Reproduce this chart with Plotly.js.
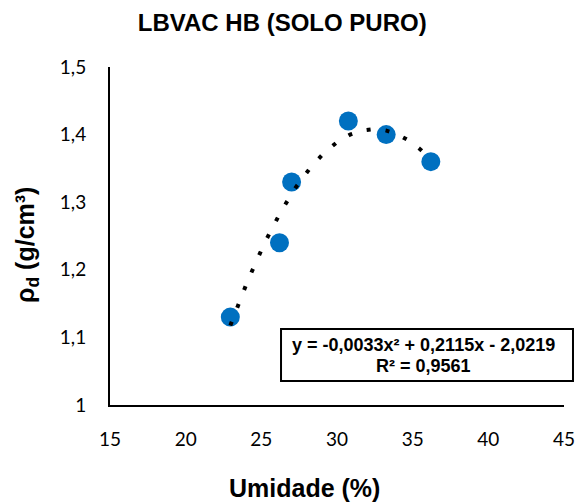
<!DOCTYPE html>
<html>
<head>
<meta charset="utf-8">
<script src="https://cdn.plot.ly/plotly-3.0.1.min.js"></script>
<style>
  html, body { margin: 0; padding: 0; background: #fff; }
  #chart { width: 576px; height: 502px; }
</style>
</head>
<body>
<div id="chart"></div>
<script>
// Compaction test: moisture content (%) vs dry density (g/cm³)
const umidade = [22.95, 26.2, 27.0, 30.75, 33.25, 36.2];
const densidade = [1.13, 1.24, 1.33, 1.42, 1.40, 1.36];

const chartTitle = 'LBVAC HB (SOLO PURO)';
const xTitle = 'Umidade (%)';
const yTitle = 'ρ<sub>d</sub> (g/cm³)';
const equationLine = 'y = -0,0033x² + 0,2115x - 2,0219';
const r2Line = 'R² = 0,9561';

const xTicks = [15, 20, 25, 30, 35, 40, 45];
const xTickText = ['15', '20', '25', '30', '35', '40', '45'];
const yTicks = [1, 1.1, 1.2, 1.3, 1.4, 1.5];
const yTickText = ['1', '1,1', '1,2', '1,3', '1,4', '1,5'];

// Least-squares second-order polynomial through the measured points
function quadFit(xs, ys) {
  let s = [0, 0, 0, 0, 0], t = [0, 0, 0];
  for (let i = 0; i < xs.length; i++) {
    let p = 1;
    for (let k = 0; k < 5; k++) { s[k] += p; if (k < 3) t[k] += p * ys[i]; p *= xs[i]; }
  }
  const A = [[s[0], s[1], s[2], t[0]], [s[1], s[2], s[3], t[1]], [s[2], s[3], s[4], t[2]]];
  for (let c = 0; c < 3; c++) {
    for (let r = c + 1; r < 3; r++) {
      const f = A[r][c] / A[c][c];
      for (let k = c; k < 4; k++) A[r][k] -= f * A[c][k];
    }
  }
  const b = [0, 0, 0];
  for (let r = 2; r >= 0; r--) {
    let v = A[r][3];
    for (let k = r + 1; k < 3; k++) v -= A[r][k] * b[k];
    b[r] = v / A[r][r];
  }
  return b; // c0 + c1 x + c2 x²
}

const coef = quadFit(umidade, densidade);
const xMin = Math.min(...umidade), xMax = Math.max(...umidade);
const fitX = [], fitY = [];
for (let i = 0; i <= 200; i++) {
  const x = xMin + (xMax - xMin) * i / 200;
  fitX.push(x);
  fitY.push(coef[0] + coef[1] * x + coef[2] * x * x);
}

const traces = [
  {
    x: umidade, y: densidade, type: 'scatter', mode: 'markers',
    marker: { color: '#0070C0', size: 19 },
    hoverinfo: 'x+y'
  },
  {
    x: fitX, y: fitY, type: 'scatter', mode: 'lines',
    line: { color: '#000', width: 4, dash: '4px,15px' },
    hoverinfo: 'skip'
  }
];

const tickFont = { family: 'Lato, "Open Sans", sans-serif', size: 19, color: '#000' };
const boldFamily = '"Liberation Sans", Arial, sans-serif';

const layout = {
  width: 576, height: 502,
  margin: { l: 110, r: 12, t: 67, b: 97 },
  paper_bgcolor: '#fff', plot_bgcolor: '#fff',
  showlegend: false,
  title: {
    text: '<b>' + chartTitle + '</b>',
    font: { family: boldFamily, size: 24, color: '#000' },
    x: 0.49, xanchor: 'center', y: 0.955, yanchor: 'middle'
  },
  xaxis: {
    range: [15, 45],
    tickvals: xTicks, ticktext: xTickText,
    showgrid: false, zeroline: false,
    showline: true, linecolor: '#000', linewidth: 2,
    ticks: '', ticklen: 0, ticklabelstandoff: 16,
    tickfont: tickFont
  },
  yaxis: {
    range: [1, 1.5],
    tickvals: yTicks, ticktext: yTickText,
    showgrid: false, zeroline: false,
    showline: true, linecolor: '#000', linewidth: 2,
    ticks: '', ticklen: 0, ticklabelstandoff: 18,
    tickfont: tickFont
  },
  shapes: [{
    type: 'rect', xref: 'paper', yref: 'paper',
    x0: 0.3767, x1: 1.0198, y0: 0.071, y1: 0.2249,
    line: { color: '#000', width: 2 }, fillcolor: '#fff', layer: 'above'
  }],
  annotations: [
    {
      text: '<b>' + xTitle + '</b>', xref: 'paper', yref: 'paper',
      x: 0.428, y: 0, xanchor: 'center', yanchor: 'middle', yshift: -83,
      showarrow: false, font: { family: boldFamily, size: 25, color: '#000' }
    },
    {
      text: '<b>' + yTitle + '</b>', xref: 'paper', yref: 'paper',
      x: 0, y: 0.5, xanchor: 'center', yanchor: 'middle', xshift: -83, yshift: -9,
      textangle: -90,
      showarrow: false, font: { family: boldFamily, size: 25, color: '#000' }
    },
    {
      text: '<b>' + equationLine + '</b>', xref: 'paper', yref: 'paper',
      x: 0.6916, y: 0.1775, xanchor: 'center', yanchor: 'middle',
      showarrow: false, font: { family: boldFamily, size: 18, color: '#000' }
    },
    {
      text: '<b>' + r2Line + '</b>', xref: 'paper', yref: 'paper',
      x: 0.6916, y: 0.1154, xanchor: 'center', yanchor: 'middle',
      showarrow: false, font: { family: boldFamily, size: 18, color: '#000' }
    }
  ]
};

Plotly.newPlot('chart', traces, layout, { displayModeBar: false, staticPlot: true });
</script>
</body>
</html>
